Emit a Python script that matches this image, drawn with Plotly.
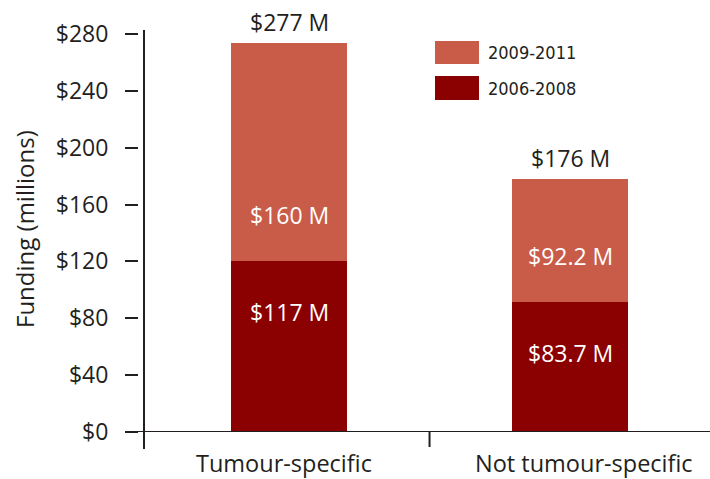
import plotly.graph_objects as go

# ---------------- data ----------------
categories = ["Tumour-specific", "Not tumour-specific"]
series_early_name = "2006-2008"
series_late_name = "2009-2011"
# segment heights as drawn in the chart (millions)
funding_early = [120.4, 91.8]
funding_late = [153.3, 86.3]
# printed value labels
label_early = ["$117 M", "$83.7 M"]
label_late = ["$160 M", "$92.2 M"]
label_total = ["$277 M", "$176 M"]
y_tick_vals = [0, 40, 80, 120, 160, 200, 240, 280]
y_tick_text = ["$0", "$40", "$80", "$120", "$160", "$200", "$240", "$280"]

# ---------------- style ----------------
W, H = 710, 479
L, R, T, B = 138, 0, 34, 47
PW, PH = W - L - R, H - T - B
DARK = "#8B0000"
LIGHT = "#C95C48"
INK = "#231F20"
FONT = "Open Sans, Noto Sans, sans-serif"
NARROW = "DejaVu Sans Condensed, Liberation Sans Narrow, sans-serif"


def px_x(p):
    return (p - L) / PW


def px_y(p):
    return (H - B - p) / PH


x_idx = list(range(len(categories)))
dom0 = px_x(144)

fig = go.Figure()
fig.add_trace(go.Bar(x=x_idx, y=funding_early, name=series_early_name,
                     marker=dict(color=DARK, line=dict(width=0)), width=0.413,
                     showlegend=False, hoverinfo="skip"))
fig.add_trace(go.Bar(x=x_idx, y=funding_late, name=series_late_name,
                     marker=dict(color=LIGHT, line=dict(width=0)), width=0.413,
                     showlegend=False, hoverinfo="skip"))

annotations = []
cat_shift = [-5, 14]
for i in x_idx:
    total = funding_early[i] + funding_late[i]
    annotations.append(dict(x=i, y=total, xref="x", yref="y", text=label_total[i],
                            showarrow=False, yshift=21, xanchor="center", yanchor="middle",
                            font=dict(family=FONT, size=23, color=INK)))
    annotations.append(dict(x=i, y=funding_early[i], xref="x", yref="y", text=label_late[i],
                            showarrow=False, yshift=46, xanchor="center", yanchor="middle",
                            font=dict(family=FONT, size=23, color="white")))
    annotations.append(dict(x=i, y=funding_early[i], xref="x", yref="y", text=label_early[i],
                            showarrow=False, yshift=-51, xanchor="center", yanchor="middle",
                            font=dict(family=FONT, size=23, color="white")))
    annotations.append(dict(x=i, y=px_y(463), xref="x", yref="paper", text=categories[i],
                            showarrow=False, xshift=cat_shift[i], xanchor="center", yanchor="middle",
                            font=dict(family=FONT, size=23.5, color=INK)))

# y-axis title
annotations.append(dict(x=px_x(25), y=px_y(229), xref="paper", yref="paper",
                        text="Funding (millions)", textangle=-90, showarrow=False,
                        xanchor="center", yanchor="middle",
                        font=dict(family=FONT, size=24, color=INK)))

# legend (manual)
legend_items = [(series_late_name, LIGHT, 41, 64), (series_early_name, DARK, 76, 100)]
shapes = []
for name, col, ytop, ybot in legend_items:
    shapes.append(dict(type="rect", xref="paper", yref="paper",
                       x0=px_x(435), x1=px_x(479), y0=px_y(ybot), y1=px_y(ytop),
                       fillcolor=col, line=dict(width=0)))
    annotations.append(dict(x=px_x(486), y=px_y((ytop + ybot) / 2), xref="paper", yref="paper",
                            text=name, showarrow=False, xanchor="left", yanchor="middle",
                            font=dict(family=NARROW, size=18, color=INK)))

# axis lines
shapes.append(dict(type="line", xref="paper", yref="y", x0=px_x(125), x1=1, y0=0, y1=0,
                   line=dict(color=INK, width=2)))
shapes.append(dict(type="line", xref="paper", yref="paper", x0=dom0, x1=dom0,
                   y0=px_y(449), y1=px_y(30), line=dict(color=INK, width=2)))
shapes.append(dict(type="line", xref="x", yref="paper", x0=0.5, x1=0.5,
                   y0=0, y1=px_y(447), line=dict(color=INK, width=2)))

fig.update_layout(
    width=W, height=H,
    margin=dict(l=L, r=R, t=T, b=B, pad=0),
    paper_bgcolor="white", plot_bgcolor="white",
    barmode="stack", bargap=0,
    xaxis=dict(domain=[dom0, 1], range=[-0.516, 1.498], showticklabels=False,
               showline=False, showgrid=False, zeroline=False, ticks=""),
    yaxis=dict(range=[0, 280], tickvals=y_tick_vals, ticktext=y_tick_text,
               anchor="free", position=0, ticks="outside", ticklen=13, tickwidth=2,
               tickcolor=INK, ticklabelstandoff=12,
               tickfont=dict(family=FONT, size=23, color=INK),
               showline=False, showgrid=False, zeroline=False),
    annotations=annotations, shapes=shapes,
    showlegend=False,
)

fig.write_html("out.html", config={"displayModeBar": False},
               post_script="document.body.style.margin='0';")
